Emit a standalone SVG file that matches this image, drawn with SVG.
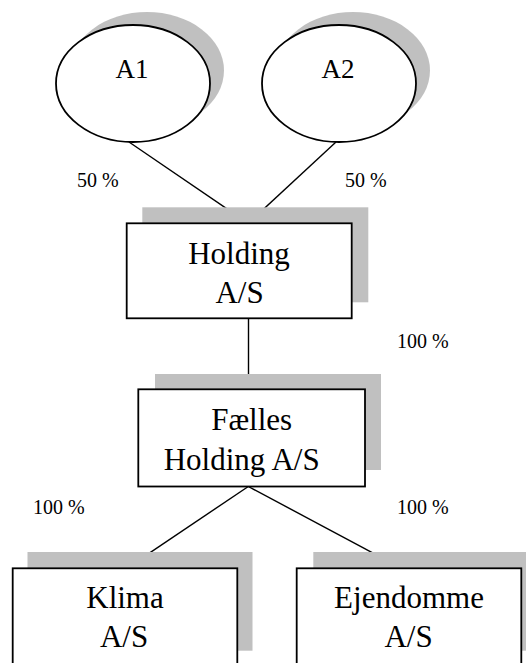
<svg xmlns="http://www.w3.org/2000/svg" width="526" height="663" viewBox="0 0 526 663">
  <style>
    .shadow { fill: #c0c0c0; stroke: none; }
    .shape { fill: #ffffff; stroke: #000000; stroke-width: 1.8; }
    .label { font-family: "Liberation Serif", "Times New Roman", serif; fill: #000000; text-anchor: middle; }
    .big { font-size: 31px; }
    .oval { font-size: 27px; }
    .pct { font-family: "Liberation Serif", "Times New Roman", serif; font-size: 20px; fill: #000000; }
    .link { stroke: #000000; stroke-width: 1.4; fill: none; }
  </style>
  <rect width="526" height="663" fill="#ffffff"/>

  <!-- owners -->
  <g id="a1">
    <ellipse class="shadow" cx="147" cy="70.5" rx="77" ry="58.5"/>
    <ellipse class="shape" cx="133" cy="83.5" rx="77" ry="58.5"/>
    <text class="label oval" x="132" y="78">A1</text>
  </g>
  <g id="a2">
    <ellipse class="shadow" cx="353" cy="70.5" rx="77" ry="58.5"/>
    <ellipse class="shape" cx="339" cy="83.5" rx="77" ry="58.5"/>
    <text class="label oval" x="338" y="78">A2</text>
  </g>

  <!-- connectors -->
  <g id="connectors">
    <line class="link" x1="129" y1="142" x2="248.3" y2="223.3"/>
    <line class="link" x1="336" y1="142" x2="248.3" y2="223.3"/>
    <line class="link" x1="248.5" y1="318" x2="248.5" y2="389.3"/>
    <line class="link" x1="248.3" y1="486.5" x2="126.7" y2="568.3"/>
    <line class="link" x1="248.3" y1="486.5" x2="401.7" y2="568.3"/>
  </g>

  <!-- ownership shares -->
  <g id="shares">
    <text class="pct" x="77" y="186.7">50 %</text>
    <text class="pct" x="345" y="186.7">50 %</text>
    <text class="pct" x="397" y="348">100 %</text>
    <text class="pct" x="33" y="514">100 %</text>
    <text class="pct" x="397" y="514">100 %</text>
  </g>

  <!-- companies -->
  <g id="holding">
    <rect class="shadow" x="142.3" y="207.3" width="226" height="95"/>
    <rect class="shape" x="126.7" y="223.3" width="225" height="95"/>
    <text class="label big" x="239" y="263.5">Holding</text>
    <text class="label big" x="239.5" y="302.5">A/S</text>
  </g>
  <g id="faelles">
    <rect class="shadow" x="155" y="374" width="226" height="96"/>
    <rect class="shape" x="138.3" y="389.3" width="226.7" height="97.2"/>
    <text class="label big" x="251.7" y="429.5">Fælles</text>
    <text class="label big" x="241.7" y="469.5">Holding A/S</text>
  </g>
  <g id="klima">
    <rect class="shadow" x="27.5" y="552" width="225" height="98.7"/>
    <rect class="shape" x="12.7" y="568.3" width="224.6" height="100"/>
    <text class="label big" x="125" y="608.3">Klima</text>
    <text class="label big" x="124" y="647">A/S</text>
  </g>
  <g id="ejendomme">
    <rect class="shadow" x="313.3" y="552" width="225" height="98.7"/>
    <rect class="shape" x="296.7" y="568.3" width="224.6" height="100"/>
    <text class="label big" x="409" y="608.3">Ejendomme</text>
    <text class="label big" x="408.5" y="647">A/S</text>
  </g>
</svg>
